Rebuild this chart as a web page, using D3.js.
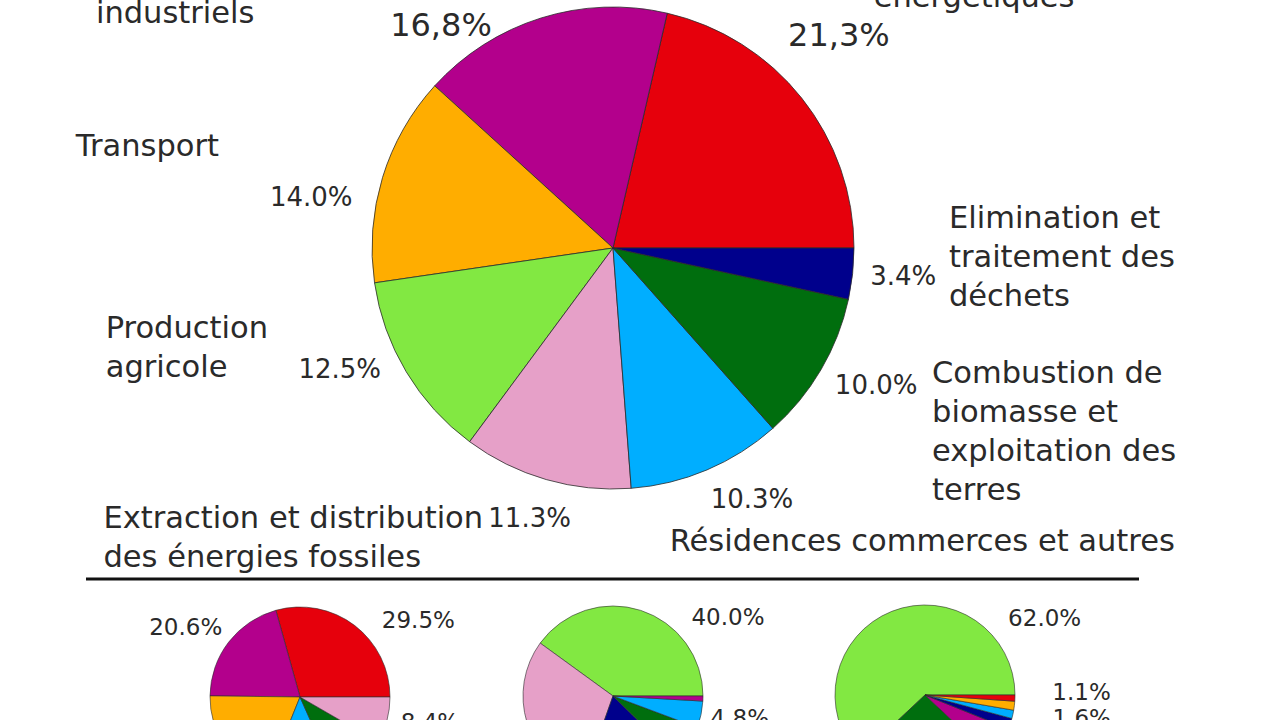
<!DOCTYPE html>
<html>
<head>
<meta charset="utf-8">
<script src="https://cdn.jsdelivr.net/npm/d3@7"></script>
<style>
  html, body { margin: 0; padding: 0; background: #fff; }
  svg { display: block; }
  text { font-family: "DejaVu Sans", sans-serif; fill: #2a2a2a; }
</style>
</head>
<body>
<svg id="chart" width="1280" height="720"></svg>
<script>
// ---------------- DATA ----------------
// Main pie (all greenhouse gases), counter-clockwise from 3 o'clock
const mainSectors = ["power", "industry", "transport", "agri", "fossil", "resid", "landuse", "waste"];
const mainValues = [21.3, 16.8, 14.0, 12.5, 11.3, 10.3, 10.0, 3.4];
const mainPctLabels = ["21,3%", "16,8%", "14.0%", "12.5%", "11.3%", "10.3%", "10.0%", "3.4%"];
const mainCategoryLines = [
  ["Centrales", "énergétiques"],
  ["Procédés", "industriels"],
  ["Transport"],
  ["Production", "agricole"],
  ["Extraction et distribution", "des énergies fossiles"],
  ["Résidences commerces et autres"],
  ["Combustion de", "biomasse et", "exploitation des", "terres"],
  ["Elimination et", "traitement des", "déchets"]
];

// Small pies (CO2, CH4, N2O)
const co2Sectors = ["power", "industry", "transport", "resid", "landuse", "fossil"];
const co2Values = [29.5, 20.6, 19.2, 12.9, 10.0, 8.4];
const co2PctLabels = ["29.5%", "20.6%", "", "", "", "8.4%"];

const ch4Sectors = ["agri", "fossil", "waste", "landuse", "resid", "industry"];
const ch4Values = [40.0, 29.6, 18.1, 6.6, 4.8, 0.9];
const ch4PctLabels = ["40.0%", "", "", "", "4.8%", ""];

const n2oSectors = ["agri", "landuse", "industry", "waste", "resid", "transport", "power"];
const n2oValues = [62.0, 26.0, 5.9, 1.9, 1.5, 1.6, 1.1];
const n2oPctLabels = ["62.0%", "", "", "", "", "1.6%", "1.1%"];

// ---------------- STYLE / LAYOUT ----------------
const sectorColors = {
  power: "#e6000c", industry: "#b3008c", transport: "#ffad00", agri: "#82e842",
  fossil: "#e6a0c8", resid: "#00aeff", landuse: "#006e0e", waste: "#00008c"
};
const W = 1280, H = 720;
const mainPie = { cx: 613, cy: 248, r: 241 };
// label placement in polar form: [angle (deg, CCW from 3 o'clock), distance in radii]
const mainPctPos = [[43.4, 1.29], [127.6, 1.17], [170.4, 1.27], [203.9, 1.24], [252.8, 1.17], [299.0, 1.19], [332.6, 1.23], [354.5, 1.21]];
const mainCatPos = [[48.1, 1.62], [152.0, 2.43], [169.1, 2.27], [188.8, 2.13], [207.8, 2.39], [281.0, 1.235], [338.8, 1.42], [5.3, 1.40]];
const smallPies = [
  { cx: 300, cy: 697, r: 90, sectors: co2Sectors, values: co2Values, labels: co2PctLabels,
    pos: [[33.1, 1.57], [148.4, 1.49], null, null, null, [-10.9, 1.47]] },
  { cx: 613, cy: 696, r: 90, sectors: ch4Sectors, values: ch4Values, labels: ch4PctLabels,
    pos: [[34.5, 1.55], null, null, null, [-9.8, 1.43], null] },
  { cx: 925, cy: 695, r: 90, sectors: n2oSectors, values: n2oValues, labels: n2oPctLabels,
    pos: [[32.7, 1.58], null, null, null, null, [-8.3, 1.76], [1.1, 1.74]] }
];

const svg = d3.select("#chart");
svg.append("rect").attr("width", W).attr("height", H).attr("fill", "#fff");

// matplotlib-like pie: start at 3 o'clock, go counter-clockwise
const pieGen = d3.pie().sort(null).value(d => d.v)
  .startAngle(Math.PI / 2).endAngle(Math.PI / 2 - 2 * Math.PI);

function polar(p, deg, rf) {
  const a = deg * Math.PI / 180;
  return [p.cx + Math.cos(a) * rf * p.r, p.cy - Math.sin(a) * rf * p.r];
}

function drawPie(p, sectors, values, strokeW) {
  const data = sectors.map((s, i) => ({ s, v: values[i] }));
  const arcs = pieGen(data);
  const arc = d3.arc().innerRadius(0).outerRadius(p.r);
  const g = svg.append("g").attr("transform", `translate(${p.cx},${p.cy})`);
  g.selectAll("path").data(arcs).join("path")
    .attr("d", arc)
    .attr("fill", d => sectorColors[d.data.s])
    .attr("stroke", "#2b2b2b")
    .attr("stroke-width", strokeW)
    .attr("stroke-linejoin", "round");
}

// Main pie
drawPie(mainPie, mainSectors, mainValues, 0.8);

mainPctLabels.forEach((t, i) => {
  const [x, y] = polar(mainPie, mainPctPos[i][0], mainPctPos[i][1]);
  svg.append("text").attr("x", x).attr("y", y)
    .attr("text-anchor", "middle").attr("dy", "0.36em")
    .attr("font-size", i < 2 ? 32 : 26)
    .text(t);
});

mainCategoryLines.forEach((lines, i) => {
  const [x, y] = polar(mainPie, mainCatPos[i][0], mainCatPos[i][1]);
  const txt = svg.append("text").attr("x", x).attr("y", y)
    .attr("text-anchor", "start").attr("font-size", 30.5);
  lines.forEach((ln, j) => {
    txt.append("tspan").attr("x", x).attr("y", y + j * 39).attr("dy", "0.36em").text(ln);
  });
});

// Separator line
svg.append("line").attr("x1", 86).attr("x2", 1139).attr("y1", 579).attr("y2", 579)
  .attr("stroke", "#111").attr("stroke-width", 3);

// Small pies
smallPies.forEach(p => {
  drawPie(p, p.sectors, p.values, 0.6);
  p.labels.forEach((t, i) => {
    if (!t || !p.pos[i]) return;
    const [x, y] = polar(p, p.pos[i][0], p.pos[i][1]);
    svg.append("text").attr("x", x).attr("y", y)
      .attr("text-anchor", "middle").attr("dy", "0.36em")
      .attr("font-size", 23)
      .text(t);
  });
});
</script>
</body>
</html>
